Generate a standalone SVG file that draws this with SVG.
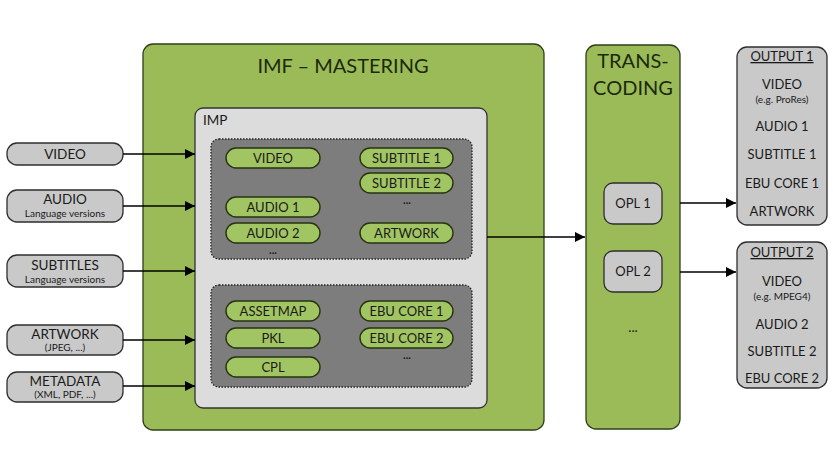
<svg xmlns="http://www.w3.org/2000/svg" width="833" height="469" viewBox="0 0 833 469">
<defs>
<marker id="ah" viewBox="0 0 10 10" refX="10" refY="5" markerWidth="10" markerHeight="10" markerUnits="userSpaceOnUse" orient="auto">
<path d="M0,0 L10,5 L0,10 z" fill="#000"/>
</marker>
<style>
text{font-family:Lato,"Open Sans","Liberation Sans",sans-serif;fill:#1a1a1a;text-anchor:middle}
.in{fill:#c9c9c9;stroke:#2e2e2e;stroke-width:1.3}
.big{fill:#9bbb59;stroke:#2f3f1a;stroke-width:1.3}
.imp{fill:#dcdcdc;stroke:#333;stroke-width:1.3}
.dark{fill:#7d7d7d;stroke:#222;stroke-width:1.3;stroke-dasharray:1.5 1.5}
.pill{fill:#a2c563;stroke:#26330f;stroke-width:1.4}
.t13{font-size:13.5px}
.t12{font-size:13px}
.t9{font-size:10px}
.dots{font-size:11px;font-weight:bold}
.ttl{font-size:20px;fill:#1b2a0c}
.con{stroke:#000;stroke-width:1.4;fill:none;marker-end:url(#ah)}
</style>
</defs>
<rect width="833" height="469" fill="#fff"/>

<g id="mastering">
<rect class="big" x="143" y="44" width="401" height="386" rx="10"/>
<text class="ttl" x="343" y="73">IMF – MASTERING</text>
</g>
<g id="imp">
<rect class="imp" x="195" y="108" width="292" height="300" rx="8"/>
<text class="t13" x="203" y="125" style="text-anchor:start">IMP</text>
</g>
<g id="essences">
<rect class="dark" x="211" y="139" width="261" height="120" rx="8"/>
<g id="p-video"><rect class="pill" x="226" y="148" width="94" height="20" rx="10"/><text class="t12" x="273" y="163">VIDEO</text></g>
<g id="p-sub1"><rect class="pill" x="360" y="148" width="93" height="20" rx="10"/><text class="t12" x="406.5" y="163">SUBTITLE 1</text></g>
<g id="p-sub2"><rect class="pill" x="360" y="173" width="93" height="20" rx="10"/><text class="t12" x="406.5" y="188">SUBTITLE 2</text></g>
<text class="dots" x="407" y="204">...</text>
<g id="p-audio1"><rect class="pill" x="226" y="197" width="94" height="20" rx="10"/><text class="t12" x="273" y="212">AUDIO 1</text></g>
<g id="p-audio2"><rect class="pill" x="226" y="223" width="94" height="20" rx="10"/><text class="t12" x="273" y="238">AUDIO 2</text></g>
<text class="dots" x="273" y="254">...</text>
<g id="p-artwork"><rect class="pill" x="360" y="223" width="93" height="20" rx="10"/><text class="t12" x="406.5" y="238">ARTWORK</text></g>
</g>
<g id="metadata-files">
<rect class="dark" x="211" y="285" width="261" height="102" rx="8"/>
<g id="p-assetmap"><rect class="pill" x="226" y="301" width="94" height="20" rx="10"/><text class="t12" x="273" y="316">ASSETMAP</text></g>
<g id="p-pkl"><rect class="pill" x="226" y="328" width="94" height="20" rx="10"/><text class="t12" x="273" y="343">PKL</text></g>
<g id="p-cpl"><rect class="pill" x="226" y="357" width="94" height="20" rx="10"/><text class="t12" x="273" y="372">CPL</text></g>
<g id="p-ebu1"><rect class="pill" x="360" y="301" width="93" height="20" rx="10"/><text class="t12" x="406.5" y="316">EBU CORE 1</text></g>
<g id="p-ebu2"><rect class="pill" x="360" y="328" width="93" height="20" rx="10"/><text class="t12" x="406.5" y="343">EBU CORE 2</text></g>
<text class="dots" x="407" y="359">...</text>
</g>

<g id="in-video"><rect class="in" x="7" y="143" width="116" height="22" rx="10"/><text class="t13" x="65" y="159">VIDEO</text></g>
<g id="in-audio"><rect class="in" x="7" y="190" width="116" height="32" rx="10"/><text class="t13" x="65" y="204">AUDIO</text><text class="t9" x="65" y="217">Language versions</text></g>
<g id="in-subtitles"><rect class="in" x="7" y="255" width="116" height="32" rx="10"/><text class="t13" x="65" y="270">SUBTITLES</text><text class="t9" x="65" y="283">Language versions</text></g>
<g id="in-artwork"><rect class="in" x="7" y="325" width="116" height="30" rx="10"/><text class="t13" x="65" y="339">ARTWORK</text><text class="t9" x="65" y="351">(JPEG, ...)</text></g>
<g id="in-metadata"><rect class="in" x="7" y="372" width="116" height="30" rx="10"/><text class="t13" x="65" y="386">METADATA</text><text class="t9" x="65" y="398">(XML, PDF, ...)</text></g>

<g id="transcoding">
<rect class="big" x="586" y="45" width="94" height="384" rx="10"/>
<text class="ttl" x="633" y="68">TRANS-</text>
<text class="ttl" x="633" y="95">CODING</text>
<g id="opl1"><rect class="in" x="604" y="183" width="58" height="41" rx="9"/><text class="t12" x="633" y="208">OPL 1</text></g>
<g id="opl2"><rect class="in" x="604" y="251" width="58" height="41" rx="9"/><text class="t12" x="633" y="276">OPL 2</text></g>
<text class="t13" x="633" y="332">...</text>
</g>

<g id="output1">
<rect class="in" x="737" y="47" width="90" height="178" rx="10"/>
<text class="t12" x="782" y="61" text-decoration="underline">OUTPUT 1</text>
<text class="t12" x="782" y="89">VIDEO</text>
<text class="t9" x="782" y="103">(e.g. ProRes)</text>
<text class="t12" x="782" y="131">AUDIO 1</text>
<text class="t12" x="782" y="159">SUBTITLE 1</text>
<text class="t12" x="782" y="188">EBU CORE 1</text>
<text class="t12" x="782" y="216">ARTWORK</text>
</g>
<g id="output2">
<rect class="in" x="737" y="242" width="90" height="146" rx="10"/>
<text class="t12" x="782" y="257" text-decoration="underline">OUTPUT 2</text>
<text class="t12" x="782" y="286">VIDEO</text>
<text class="t9" x="782" y="300">(e.g. MPEG4)</text>
<text class="t12" x="782" y="329">AUDIO 2</text>
<text class="t12" x="782" y="356">SUBTITLE 2</text>
<text class="t12" x="782" y="383">EBU CORE 2</text>
</g>

<g id="connectors">
<line class="con" x1="123" y1="154" x2="195" y2="154"/>
<line class="con" x1="123" y1="206" x2="195" y2="206"/>
<line class="con" x1="123" y1="271" x2="195" y2="271"/>
<line class="con" x1="123" y1="340" x2="195" y2="340"/>
<line class="con" x1="123" y1="386" x2="195" y2="386"/>
<line class="con" x1="487" y1="237" x2="585" y2="237"/>
<line class="con" x1="680" y1="203" x2="736" y2="203"/>
<line class="con" x1="680" y1="272" x2="736" y2="272"/>
</g>
</svg>
